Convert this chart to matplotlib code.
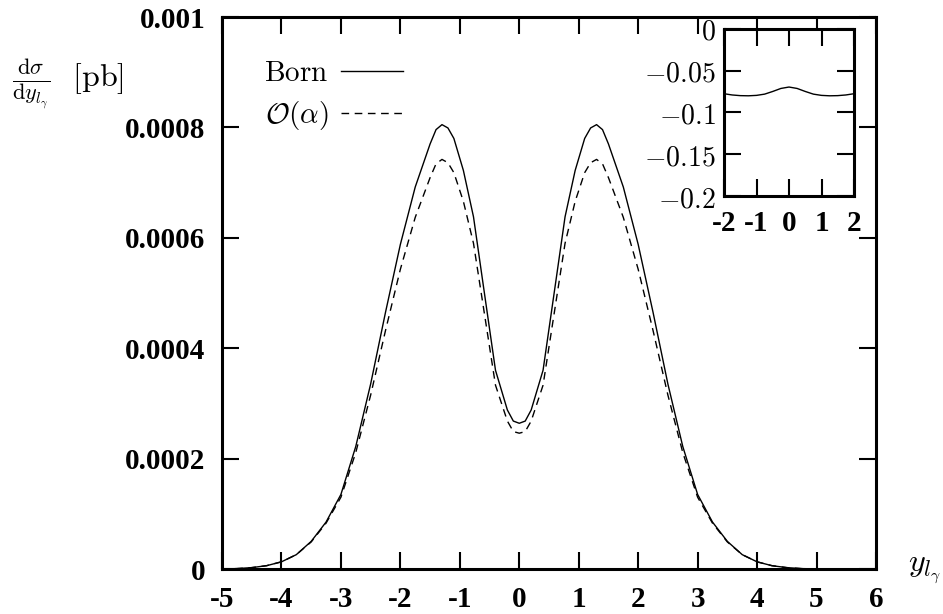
import matplotlib
matplotlib.use("Agg")
import matplotlib.pyplot as plt
from matplotlib.ticker import FixedLocator, FixedFormatter
from matplotlib.font_manager import FontProperties

plt.rcParams['mathtext.fontset'] = 'cm'

# ---- data ----
y_vals = [-5.0, -4.75, -4.5, -4.25, -4.0, -3.75, -3.5, -3.25, -3.0, -2.75, -2.5, -2.25, -2.0,
          -1.75, -1.5, -1.4, -1.3, -1.2, -1.1, -0.94, -0.77, -0.6, -0.4, -0.2, -0.1, 0.0,
          0.1, 0.2, 0.4, 0.6, 0.77, 0.94, 1.1, 1.2, 1.3, 1.4, 1.5, 1.75, 2.0, 2.25, 2.5,
          2.75, 3.0, 3.25, 3.5, 3.75, 4.0, 4.25, 4.5, 4.75, 5.0, 5.5, 6.0]
born = [0.0, 0.0000007, 0.0000025, 0.000006, 0.000013, 0.000026, 0.000050, 0.000085, 0.000135,
        0.000222, 0.000335, 0.000465, 0.000588, 0.000692, 0.000770, 0.000796, 0.000805,
        0.000799, 0.000780, 0.000722, 0.000638, 0.000510, 0.000360, 0.000288, 0.000268,
        0.000264, 0.000268, 0.000288, 0.000360, 0.000510, 0.000638, 0.000722,
        0.000780, 0.000799, 0.000805, 0.000796, 0.000770, 0.000692, 0.000588, 0.000465, 0.000335,
        0.000222, 0.000135, 0.000085, 0.000050, 0.000026, 0.000013, 0.000006,
        0.0000025, 0.0000007, 0.0000002, 0.0, 0.0]
oalpha = [0.0, 0.0000007, 0.0000025, 0.000006, 0.000013, 0.000026, 0.000049, 0.000083, 0.000130,
          0.000211, 0.000315, 0.000432, 0.000543, 0.000637, 0.000709, 0.000734, 0.000742,
          0.000736, 0.000718, 0.000666, 0.000590, 0.000472, 0.000333, 0.000268, 0.000249,
          0.000246, 0.000249, 0.000268, 0.000333, 0.000472, 0.000590, 0.000666,
          0.000718, 0.000736, 0.000742, 0.000734, 0.000709, 0.000637, 0.000543, 0.000432, 0.000315,
          0.000211, 0.000130, 0.000083, 0.000049, 0.000026, 0.000013, 0.000006,
          0.0000025, 0.0000007, 0.0000002, 0.0, 0.0]

inset_x = [-2.0, -1.75, -1.5, -1.25, -1.0, -0.75, -0.5, -0.25, 0.0,
           0.25, 0.5, 0.75, 1.0, 1.25, 1.5, 1.75, 2.0]
inset_delta = [-0.0775, -0.0790, -0.0798, -0.0800, -0.0795, -0.0780, -0.0748,
               -0.0712, -0.0695, -0.0712, -0.0748, -0.0780, -0.0795, -0.0800,
               -0.0798, -0.0790, -0.0775]

x_ticks = [-5, -4, -3, -2, -1, 0, 1, 2, 3, 4, 5, 6]
x_ticklabels = ['-5', '-4', '-3', '-2', '-1', '0', '1', '2', '3', '4', '5', '6']
y_ticks = [0, 0.0002, 0.0004, 0.0006, 0.0008, 0.001]
y_ticklabels = ['0', '0.0002', '0.0004', '0.0006', '0.0008', '0.001']
in_x_ticks = [-2, -1, 0, 1, 2]
in_x_ticklabels = ['-2', '-1', '0', '1', '2']
in_y_ticks = [0, -0.05, -0.1, -0.15, -0.2]
in_y_ticklabels = [r'$0$', r'$-0.05$', r'$-0.1$', r'$-0.15$', r'$-0.2$']

tickfont = dict(family='Liberation Serif', weight='bold', size=21)

fig = plt.figure(figsize=(9.43, 6.14), dpi=100)
ax = fig.add_axes([222/943, 1-569/614, 654/943, 552/614])

ax.plot(y_vals, born, color='black', lw=1.0, label=r'$\mathrm{Born}$')
ax.plot(y_vals, oalpha, color='black', lw=1.0, dashes=(5.5, 4), label=r'$\mathcal{O}(\alpha)$')
ax.set_xlim(-5, 6)
ax.set_ylim(0, 0.001)
ax.xaxis.set_major_locator(FixedLocator(x_ticks))
ax.xaxis.set_major_formatter(FixedFormatter(x_ticklabels))
ax.yaxis.set_major_locator(FixedLocator(y_ticks))
ax.yaxis.set_major_formatter(FixedFormatter(y_ticklabels))
ax.tick_params(axis='y', direction='in', length=12, width=1.5, right=True, pad=12)
ax.tick_params(axis='x', direction='in', length=12, width=1.5, top=True, pad=12)
for lab in ax.get_xticklabels() + ax.get_yticklabels():
    lab.set_fontproperties(FontProperties(**tickfont))
for s in ax.spines.values():
    s.set_linewidth(2.2)

leg = ax.legend(loc='upper left', bbox_to_anchor=(0.033, 0.96), frameon=False,
                markerfirst=False, handlelength=2.1, fontsize=21,
                handletextpad=0.45, labelspacing=0.4, borderpad=0.2)

fig.text(12/943, 1-84/614, r'$\frac{\mathrm{d}\sigma}{\mathrm{d}y_{l_\gamma}}$  $[\mathrm{pb}]$',
         fontsize=23, va='center', ha='left')
fig.text(908/943, 1-570/614, r'$y_{l_\gamma}$', fontsize=23, va='center', ha='left')

# inset
ax2 = fig.add_axes([724/943, 1-196/614, 130/943, 167/614])
ax2.plot(inset_x, inset_delta, color='black', lw=1.0)
ax2.set_xlim(-2, 2)
ax2.set_ylim(-0.2, 0)
ax2.xaxis.set_major_locator(FixedLocator(in_x_ticks))
ax2.xaxis.set_major_formatter(FixedFormatter(in_x_ticklabels))
ax2.yaxis.set_major_locator(FixedLocator(in_y_ticks))
ax2.yaxis.set_major_formatter(FixedFormatter(in_y_ticklabels))
ax2.tick_params(axis='y', direction='in', length=12, width=1.5, right=True, pad=6)
ax2.tick_params(axis='x', direction='in', length=12, width=1.5, top=True, pad=10)
for lab in ax2.get_xticklabels():
    lab.set_fontproperties(FontProperties(**tickfont))
for lab in ax2.get_yticklabels():
    lab.set_fontsize(20)
for s in ax2.spines.values():
    s.set_linewidth(2.2)

fig.savefig('out.png', dpi=100)
